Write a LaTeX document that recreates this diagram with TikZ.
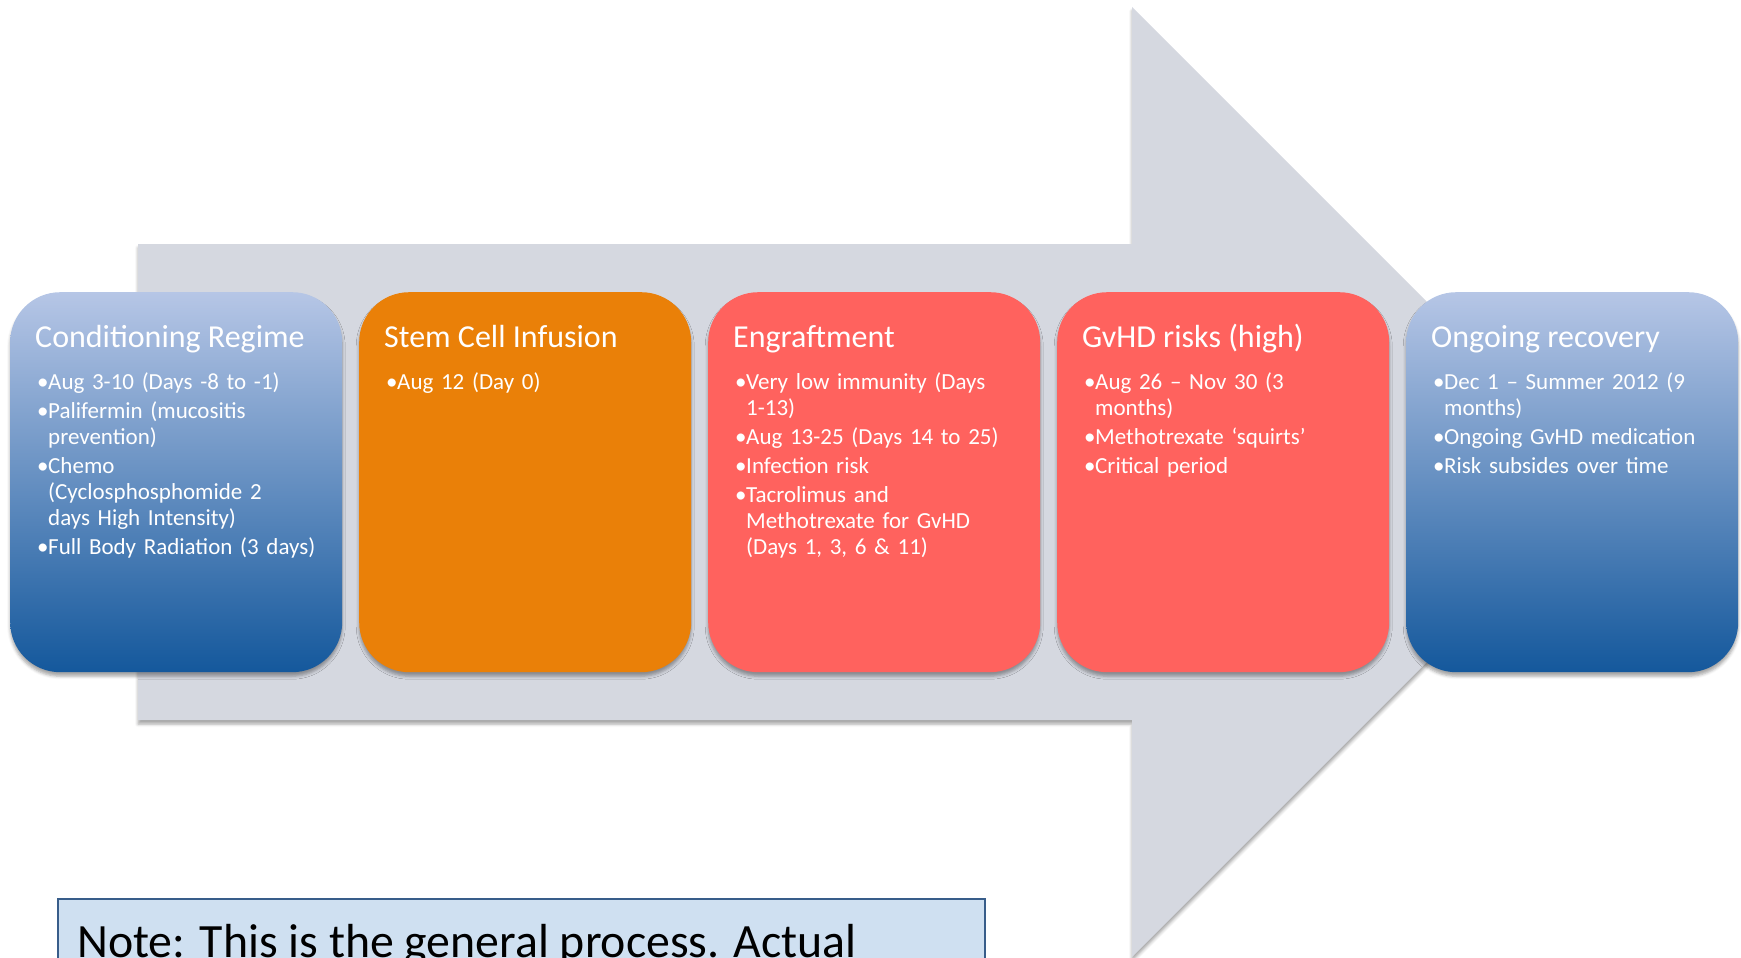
\documentclass[tikz,border=0pt]{standalone}
\usepackage{fontspec}
\setmainfont{Carlito}
\usetikzlibrary{shadows.blur,calc}
\definecolor{arrowgray}{RGB}{213,216,224}
\definecolor{bluetop}{RGB}{182,198,230}
\definecolor{bluebot}{RGB}{20,88,156}
\definecolor{orangef}{RGB}{234,128,8}
\definecolor{redf}{RGB}{255,98,94}
\definecolor{notefill}{RGB}{207,224,241}
\definecolor{noteborder}{RGB}{56,93,138}
\newcommand\itm[1]{\par\hangindent=11pt\hangafter=1\noindent\makebox[11pt][l]{•}#1\par}
\tikzset{
  softshadow/.style={blur shadow={shadow xshift=0pt,shadow yshift=-4pt,shadow blur radius=3pt,shadow opacity=35}},
  phase/.style={rounded corners=50pt,minimum width=332pt,minimum height=380pt,anchor=north west,inner sep=0pt,softshadow},
  bluephase/.style={phase,top color=bluetop,bottom color=bluebot},
  orangephase/.style={phase,fill=orangef},
  redphase/.style={phase,fill=redf},
  phasetitle/.style={anchor=base west,inner sep=0pt,text=white,font=\fontsize{32}{36}\selectfont},
  phaselist/.style={anchor=north west,inner sep=0pt,text=white,text width=300pt,align=left,
    font=\fontsize{23}{26}\selectfont\setlength{\parskip}{3pt}},
  notebox/.style={draw=noteborder,line width=2pt,fill=notefill,anchor=north west,inner sep=0pt,minimum width=927pt,minimum height=120pt},
  notetext/.style={anchor=base west,inner sep=0pt,text=black,font=\fontsize{47.8}{52}\selectfont}
}
\begin{document}
\begin{tikzpicture}[x=1pt,y=-1pt]
\useasboundingbox (0,0) rectangle (1741,958);
\clip (0,0) rectangle (1741,958);
% big arrow
\fill[arrowgray,softshadow] (138,244) -- (1132,244) -- (1132,7) -- (1607,482) -- (1132,957) -- (1132,720) -- (138,720) -- cycle;
% phases
\node[bluephase] (b1) at (10,292) {};
\node[orangephase] (b2) at (359,292) {};
\node[redphase] (b3) at (708,292) {};
\node[redphase] (b4) at (1057,292) {};
\node[bluephase] (b5) at (1406,292) {};
% titles
\node[phasetitle] (t1) at ($(b1.north west)+(25,55)$) {Conditioning Regime};
\node[phasetitle] (t2) at ($(b2.north west)+(25,55)$) {Stem Cell Infusion};
\node[phasetitle] (t3) at ($(b3.north west)+(25,55)$) {Engraftment};
\node[phasetitle] (t4) at ($(b4.north west)+(25,55)$) {GvHD risks (high)};
\node[phasetitle] (t5) at ($(b5.north west)+(25,55)$) {Ongoing recovery};
% lists
\node[phaselist] (l1) at ($(b1.north west)+(27,68)$) {%
\itm{Aug 3-10 (Days -8 to -1)}
\itm{Palifermin (mucositis\newline prevention)}
\itm{Chemo\newline (Cyclosphosphomide 2\newline days High Intensity)}
\itm{Full Body Radiation (3 days)}};
\node[phaselist] (l2) at ($(b2.north west)+(27,68)$) {%
\itm{Aug 12 (Day 0)}};
\node[phaselist] (l3) at ($(b3.north west)+(27,68)$) {%
\itm{Very low immunity (Days\newline 1-13)}
\itm{Aug 13-25 (Days 14 to 25)}
\itm{Infection risk}
\itm{Tacrolimus and\newline Methotrexate for GvHD\newline (Days 1, 3, 6 \& 11)}};
\node[phaselist] (l4) at ($(b4.north west)+(27,68)$) {%
\itm{Aug 26 – Nov 30 (3\newline months)}
\itm{Methotrexate ‘squirts’}
\itm{Critical period}};
\node[phaselist] (l5) at ($(b5.north west)+(27,68)$) {%
\itm{Dec 1 – Summer 2012 (9\newline months)}
\itm{Ongoing GvHD medication}
\itm{Risk subsides over time}};
% note
\node[notebox] (note) at (57,898) {};
\node[notetext] (notet) at (77,957) {Note: This is the general process. Actual};
\end{tikzpicture}
\end{document}
